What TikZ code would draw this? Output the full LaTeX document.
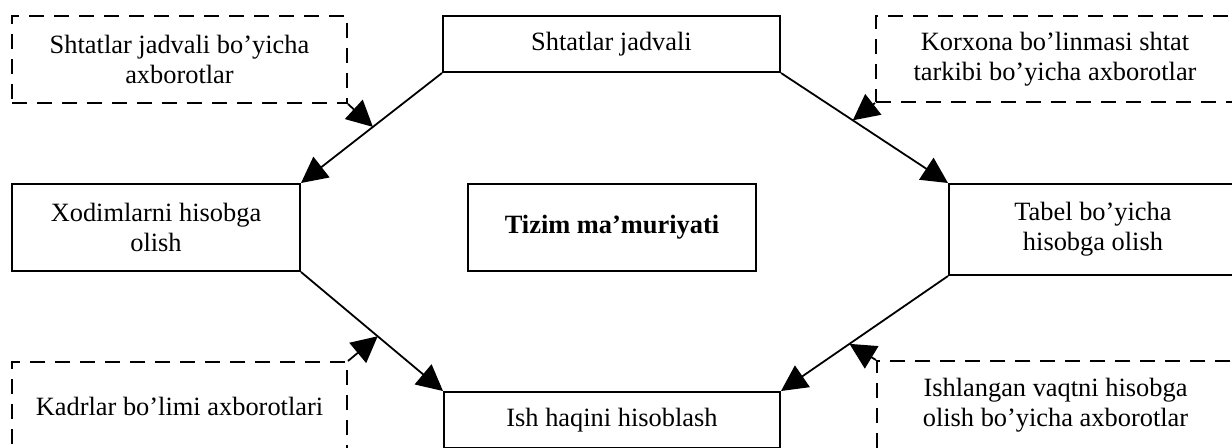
\documentclass[tikz,border=0pt]{standalone}
\usepackage{fontspec}
\setmainfont{Liberation Serif}
\usepackage{tikz}
\usetikzlibrary{arrows.meta,positioning,calc}

\begin{document}
\begin{tikzpicture}[
    x=0.5pt, y=-0.5pt,
    font=\fontsize{13.2}{15}\selectfont,
    block/.style={rectangle, draw, line width=1pt, align=center, inner sep=0pt},
    infobox/.style={rectangle, draw, dash pattern=on 7.5pt off 5pt, line width=1pt, align=center, inner sep=0pt},
    arrow/.style={-{Triangle[length=13pt, width=13pt]}, line width=0.9pt}
]
    \useasboundingbox (0,0) rectangle (1232,447);
    \clip (0,0) rectangle (1232,447);

    % main blocks
    \node[block, minimum width=168.5pt, minimum height=28pt] (shtat) at (611.5,44) {Shtatlar jadvali};
    \node[block, minimum width=144pt, minimum height=43.5pt] (xodim) at (156,227.5) {Xodimlarni hisobga\\olish};
    \node[block, minimum width=144pt, minimum height=43.5pt] (tizim) at (612,227.5) {\textbf{Tizim ma’muriyati}};
    \node[block, minimum width=144pt, minimum height=45.5pt] (tabel) at (1093,229.5) {Tabel bo’yicha\\hisobga olish};
    \node[block, minimum width=168pt, minimum height=28pt] (ish) at (612,420) {Ish haqini hisoblash};

    % information sources
    \node[infobox, minimum width=167.5pt, minimum height=43.5pt] (info1) at (179.5,59.5) {Shtatlar jadvali bo’yicha\\axborotlar};
    \node[infobox, minimum width=179pt, minimum height=43pt] (info2) at (1055,59) {Korxona bo’linmasi shtat\\tarkibi bo’yicha axborotlar};
    \node[infobox, minimum width=167.5pt, minimum height=44pt] (info3) at (179.5,406) {Kadrlar bo’limi axborotlari};
    \node[infobox, minimum width=178.5pt, minimum height=44.5pt] (info4) at (1055.5,405.5) {Ishlangan vaqtni hisobga\\olish bo’yicha axborotlar};

    \draw[arrow] (shtat.south west) -- (xodim.north east);
    \draw[arrow] (shtat.south east) -- (tabel.north west);
    \draw[arrow] (xodim.south east) -- (ish.north west);
    \draw[arrow] (tabel.south west) -- (ish.north east);

    \draw[arrow] (info1.south east) -- ($(shtat.south west)!0.49!(xodim.north east)$);
    \draw[arrow] (info2.south west) -- ($(shtat.south east)!0.43!(tabel.north west)$);
    \draw[arrow] (info3.north east) -- ($(xodim.south east)!0.54!(ish.north west)$);
    \draw[arrow] (info4.north west) -- ($(tabel.south west)!0.59!(ish.north east)$);
\end{tikzpicture}
\end{document}
